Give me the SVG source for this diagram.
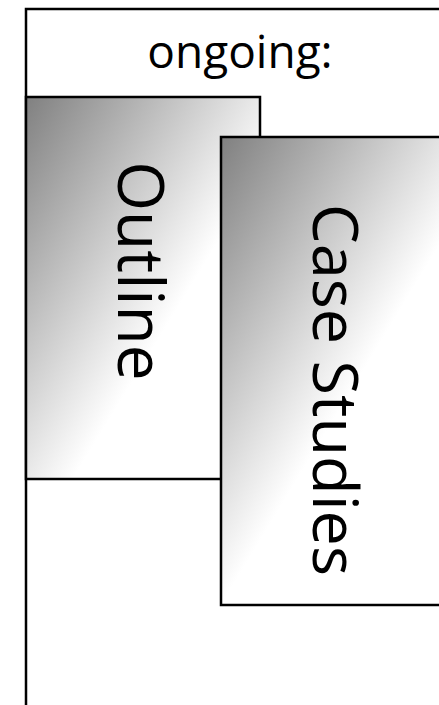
<svg xmlns="http://www.w3.org/2000/svg" width="439" height="705" viewBox="0 0 439 705">
  <style>
    .frame { fill: #ffffff; stroke: #000000; stroke-width: 2.5; }
    .box { stroke: #000000; stroke-width: 2.5; }
    .label { font-family: "Open Sans", "Noto Sans", "Liberation Sans", sans-serif; fill: #000000; }
  </style>
  <defs>
    <linearGradient id="gOutline" x1="0" y1="0" x2="1" y2="1">
      <stop offset="0" stop-color="#808080"/>
      <stop offset="0.6" stop-color="#ffffff"/>
      <stop offset="1" stop-color="#ffffff"/>
    </linearGradient>
    <linearGradient id="gCase" x1="0" y1="0" x2="1" y2="1">
      <stop offset="0" stop-color="#808080"/>
      <stop offset="0.5" stop-color="#ffffff"/>
      <stop offset="1" stop-color="#ffffff"/>
    </linearGradient>
  </defs>
  <g id="ongoing">
    <rect class="frame" x="26" y="9" width="440" height="720"/>
    <text class="label" x="240" y="68" font-size="46" text-anchor="middle">ongoing:</text>
  </g>
  <g id="outline">
    <rect class="box" x="26" y="97" width="234" height="382" fill="url(#gOutline)"/>
    <text class="label" font-size="64" text-anchor="middle" transform="translate(118,271) rotate(90)">Outline</text>
  </g>
  <g id="case-studies">
    <rect class="box" x="221" y="137" width="284" height="468" fill="url(#gCase)"/>
    <text class="label" font-size="63" text-anchor="middle" transform="translate(313,390) rotate(90)">Case Studies</text>
  </g>
  <g id="connectors"/>
</svg>
